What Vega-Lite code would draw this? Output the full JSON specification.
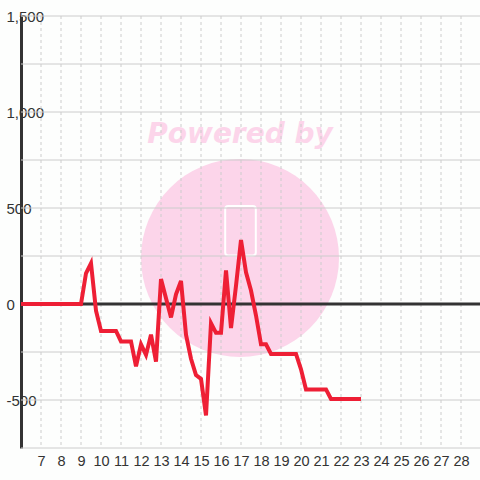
{
  "$schema": "https://vega.github.io/schema/vega-lite/v6.json",
  "autosize": "none",
  "width": 460,
  "height": 432,
  "padding": {"left": 21, "top": 16, "right": 0, "bottom": 32},
  "background": "#fdfefd",
  "config": {
    "view": {"stroke": null},
    "font": "Liberation Sans",
    "axisX": {"grid": false, "domain": false, "ticks": false, "labelFontSize": 14.5, "labelColor": "#333333", "labelPadding": 6, "labelFlush": false, "labelOverlap": false},
    "axisY": {"grid": false, "domain": true, "domainColor": "#333333", "domainWidth": 3, "ticks": false, "labelAlign": "left", "labelBaseline": "middle", "labelPadding": 15, "labelFontSize": 15, "labelColor": "#333333", "labelFlush": false, "labelOverlap": false}
  },
  "datasets": {
    "series": [
      {"x": 6, "y": 0}, {"x": 9, "y": 0}, {"x": 9.25, "y": 160}, {"x": 9.5, "y": 212},
      {"x": 9.75, "y": -35}, {"x": 10, "y": -140}, {"x": 10.75, "y": -140}, {"x": 11, "y": -195},
      {"x": 11.5, "y": -195}, {"x": 11.75, "y": -325}, {"x": 12, "y": -210}, {"x": 12.25, "y": -265},
      {"x": 12.5, "y": -160}, {"x": 12.75, "y": -300}, {"x": 13, "y": 130}, {"x": 13.5, "y": -70},
      {"x": 13.75, "y": 50}, {"x": 14, "y": 120}, {"x": 14.25, "y": -160}, {"x": 14.5, "y": -285},
      {"x": 14.75, "y": -370}, {"x": 15, "y": -390}, {"x": 15.25, "y": -580}, {"x": 15.5, "y": -100},
      {"x": 15.75, "y": -150}, {"x": 16, "y": -150}, {"x": 16.25, "y": 175}, {"x": 16.5, "y": -125},
      {"x": 16.75, "y": 95}, {"x": 17, "y": 333}, {"x": 17.25, "y": 165}, {"x": 17.5, "y": 70},
      {"x": 17.75, "y": -60}, {"x": 18, "y": -210}, {"x": 18.25, "y": -210}, {"x": 18.5, "y": -260},
      {"x": 19.75, "y": -260}, {"x": 20, "y": -340}, {"x": 20.25, "y": -445}, {"x": 21.25, "y": -445},
      {"x": 21.5, "y": -495}, {"x": 23, "y": -495}
    ],
    "hgrid": [
      {"y": -750}, {"y": -500}, {"y": -250}, {"y": 250}, {"y": 500},
      {"y": 750}, {"y": 1000}, {"y": 1250}, {"y": 1500}
    ],
    "vgrid": [
      {"x": 7}, {"x": 8}, {"x": 9}, {"x": 10}, {"x": 11}, {"x": 12}, {"x": 13}, {"x": 14},
      {"x": 15}, {"x": 16}, {"x": 17}, {"x": 18}, {"x": 19}, {"x": 20}, {"x": 21}, {"x": 22},
      {"x": 23}, {"x": 24}, {"x": 25}, {"x": 26}, {"x": 27}, {"x": 28}
    ],
    "badge": [{"x": 16.95, "y": 240}],
    "caption": [{"x": 16.95, "y": 838, "t": "Powered by"}],
    "phone": [{"x": 16.21, "x2": 17.74, "y": 510, "y2": 252}],
    "zero": [{"y": 0}]
  },
  "layer": [
    {
      "data": {"name": "badge"},
      "mark": {"type": "point", "shape": "circle", "filled": true, "size": 39204, "color": "#fcd5ea", "opacity": 1},
      "encoding": {
        "x": {"field": "x", "type": "quantitative", "scale": {"domain": [6, 29], "nice": false, "zero": false},
          "axis": {"title": null, "values": [7, 8, 9, 10, 11, 12, 13, 14, 15, 16, 17, 18, 19, 20, 21, 22, 23, 24, 25, 26, 27, 28], "format": "d"}},
        "y": {"field": "y", "type": "quantitative", "scale": {"domain": [-750, 1500], "nice": false, "zero": false},
          "axis": {"title": null, "values": [-500, 0, 500, 1000, 1500], "format": ",.0f", "labelExpr": "replace(datum.label, '\u2212', '-')"}}
      }
    },
    {
      "data": {"name": "caption"},
      "mark": {"type": "text", "font": "DejaVu Sans", "fontWeight": "bold", "fontStyle": "italic", "fontSize": 28, "color": "#fcd5ea", "align": "center", "baseline": "alphabetic"},
      "encoding": {
        "x": {"field": "x", "type": "quantitative",
          "axis": {"title": null, "values": [7, 8, 9, 10, 11, 12, 13, 14, 15, 16, 17, 18, 19, 20, 21, 22, 23, 24, 25, 26, 27, 28], "format": "d"}},
        "y": {"field": "y", "type": "quantitative",
          "axis": {"title": null, "values": [-500, 0, 500, 1000, 1500], "format": ",.0f", "labelExpr": "replace(datum.label, '\u2212', '-')"}},
        "text": {"field": "t"}
      }
    },
    {
      "data": {"name": "phone"},
      "mark": {"type": "rect", "fillOpacity": 0, "stroke": "#ffffff", "strokeWidth": 2, "cornerRadius": 3},
      "encoding": {
        "x": {"field": "x", "type": "quantitative",
          "axis": {"title": null, "values": [7, 8, 9, 10, 11, 12, 13, 14, 15, 16, 17, 18, 19, 20, 21, 22, 23, 24, 25, 26, 27, 28], "format": "d"}},
        "x2": {"field": "x2"},
        "y": {"field": "y", "type": "quantitative",
          "axis": {"title": null, "values": [-500, 0, 500, 1000, 1500], "format": ",.0f", "labelExpr": "replace(datum.label, '\u2212', '-')"}},
        "y2": {"field": "y2"}
      }
    },
    {
      "data": {"name": "hgrid"},
      "mark": {"type": "rule", "color": "#cccccc", "strokeWidth": 1},
      "encoding": {"y": {"field": "y", "type": "quantitative",
        "axis": {"title": null, "values": [-500, 0, 500, 1000, 1500], "format": ",.0f", "labelExpr": "replace(datum.label, '\u2212', '-')"}}}
    },
    {
      "data": {"name": "vgrid"},
      "mark": {"type": "rule", "color": "#cccccc", "strokeWidth": 1, "strokeDash": [3, 3]},
      "encoding": {"x": {"field": "x", "type": "quantitative",
        "axis": {"title": null, "values": [7, 8, 9, 10, 11, 12, 13, 14, 15, 16, 17, 18, 19, 20, 21, 22, 23, 24, 25, 26, 27, 28], "format": "d"}}}
    },
    {
      "data": {"name": "zero"},
      "mark": {"type": "rule", "color": "#333333", "strokeWidth": 3},
      "encoding": {"y": {"field": "y", "type": "quantitative",
        "axis": {"title": null, "values": [-500, 0, 500, 1000, 1500], "format": ",.0f", "labelExpr": "replace(datum.label, '\u2212', '-')"}}}
    },
    {
      "data": {"name": "series"},
      "mark": {"type": "line", "color": "#ee1f35", "strokeWidth": 4},
      "encoding": {
        "x": {"field": "x", "type": "quantitative",
          "axis": {"title": null, "values": [7, 8, 9, 10, 11, 12, 13, 14, 15, 16, 17, 18, 19, 20, 21, 22, 23, 24, 25, 26, 27, 28], "format": "d"}},
        "y": {"field": "y", "type": "quantitative",
          "axis": {"title": null, "values": [-500, 0, 500, 1000, 1500], "format": ",.0f", "labelExpr": "replace(datum.label, '\u2212', '-')"}}
      }
    }
  ]
}
